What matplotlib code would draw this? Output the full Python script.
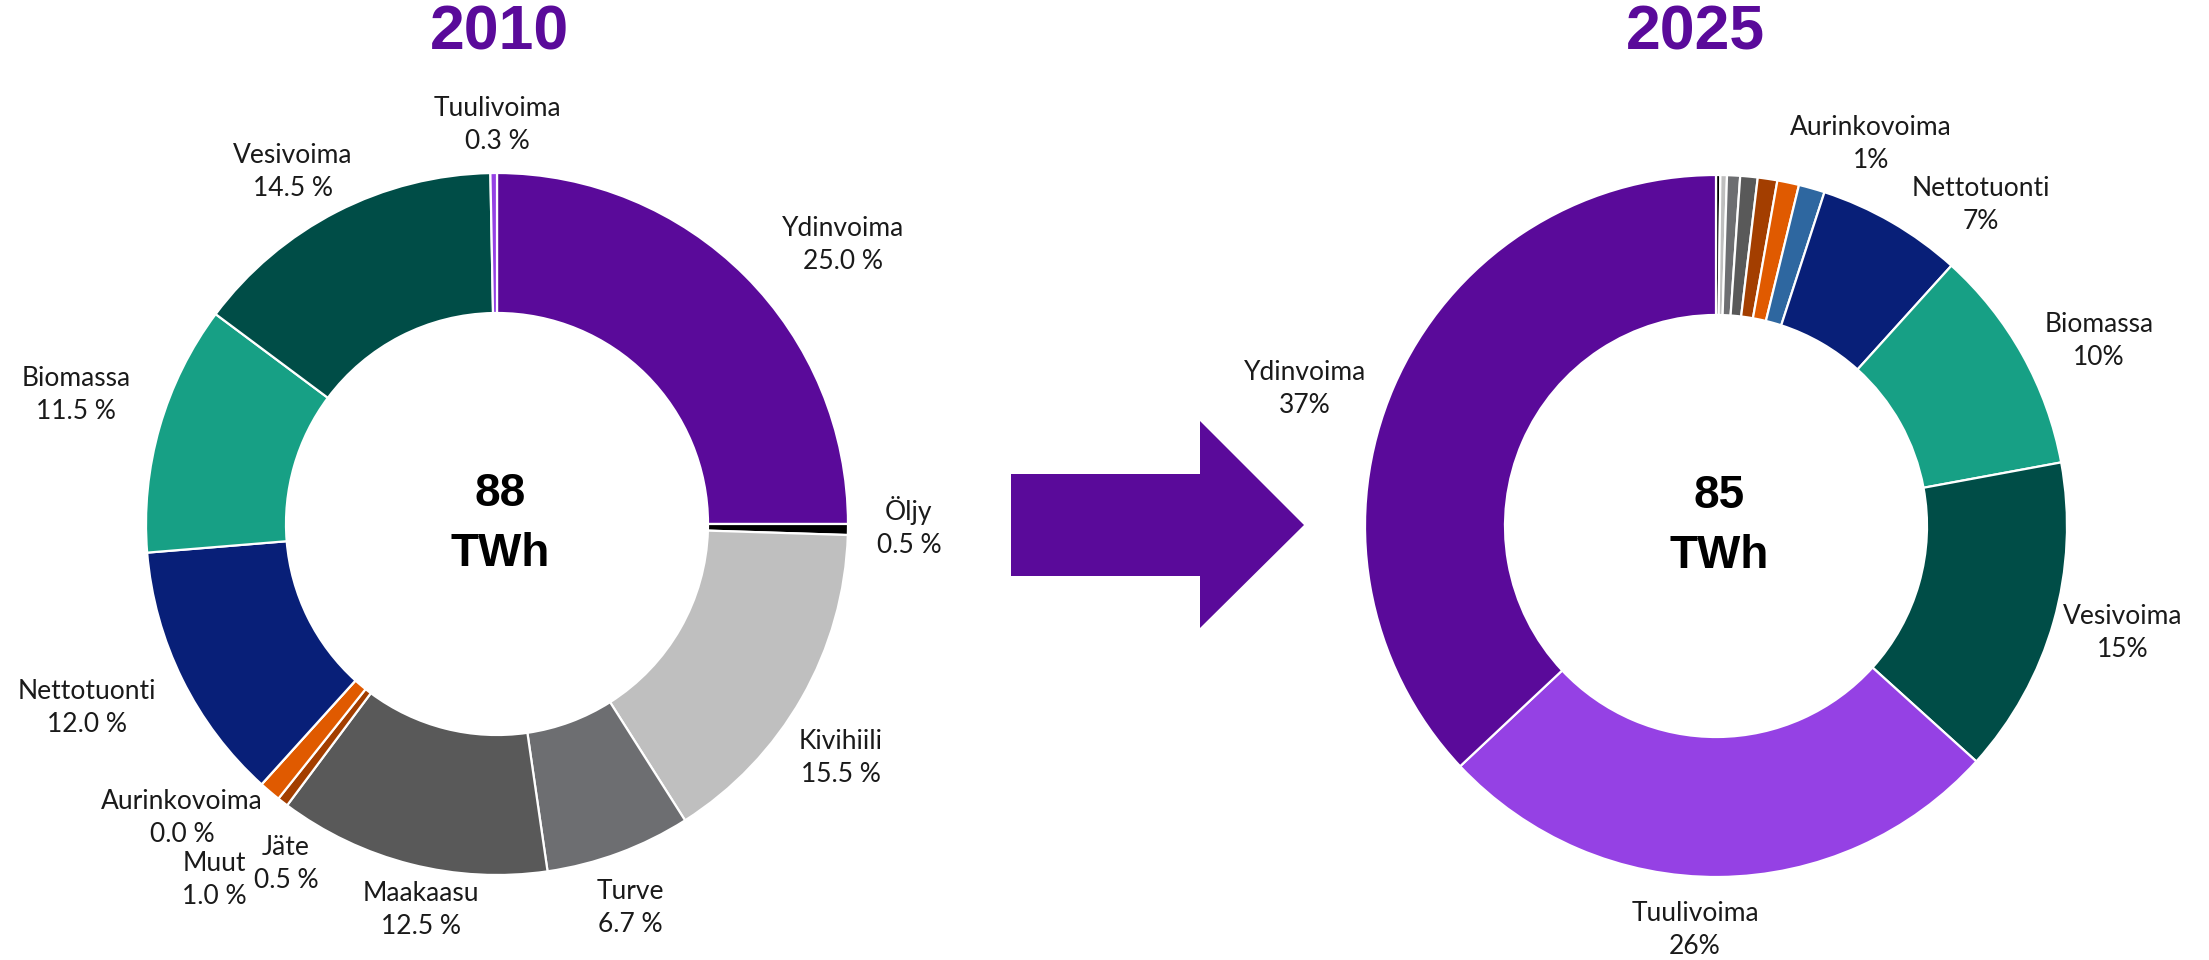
import matplotlib
matplotlib.use("Agg")
import matplotlib.pyplot as plt
from matplotlib.patches import Polygon

# ---------------- data ----------------
categories_2010 = ["Ydinvoima", "Öljy", "Kivihiili", "Turve", "Maakaasu", "Jäte",
                   "Muut", "Aurinkovoima", "Nettotuonti", "Biomassa", "Vesivoima", "Tuulivoima"]
share_2010 = [25.0, 0.5, 15.5, 6.7, 12.5, 0.5, 1.0, 0.0, 12.0, 11.5, 14.5, 0.3]

categories_2025 = ["Öljy", "Kivihiili", "Turve", "Maakaasu", "Jäte", "Muut",
                   "Aurinkovoima", "Nettotuonti", "Biomassa", "Vesivoima", "Tuulivoima", "Ydinvoima"]
share_2025 = [0.2, 0.3, 0.6, 0.8, 0.9, 1.0, 1.2, 6.7, 10.4, 14.6, 26.3, 37.0]
labelled_2025 = ["Aurinkovoima", "Nettotuonti", "Biomassa", "Vesivoima", "Tuulivoima", "Ydinvoima"]

years = ["2010", "2025"]
totals = [88, 85]
unit = "TWh"

# ---------------- style ----------------
colors = {
    "Ydinvoima": "#5a0a9a",
    "Öljy": "#000000",
    "Kivihiili": "#bfbfbf",
    "Turve": "#6d6e71",
    "Maakaasu": "#595959",
    "Jäte": "#a33e00",
    "Muut": "#e05a00",
    "Aurinkovoima": "#2e67a0",
    "Nettotuonti": "#081f78",
    "Biomassa": "#17a085",
    "Vesivoima": "#004d47",
    "Tuulivoima": "#9541e4",
}
PURPLE = "#5a0a9a"
W, H = 2209, 960

# label positions (pixel coords, image y downwards)
pos_2010 = {
    "Tuulivoima": (497, 125), "Vesivoima": (293, 172), "Ydinvoima": (843, 245),
    "Öljy": (909, 527), "Kivihiili": (841, 758), "Turve": (630, 908),
    "Maakaasu": (421, 910), "Jäte": (286, 864), "Muut": (214, 880),
    "Aurinkovoima": (182, 818), "Nettotuonti": (87, 708), "Biomassa": (76, 395),
}
pos_2025 = {
    "Aurinkovoima": (1871, 144), "Nettotuonti": (1981, 205), "Biomassa": (2099, 341),
    "Vesivoima": (2123, 633), "Tuulivoima": (1695, 930), "Ydinvoima": (1305, 389),
}
centers = [(497, 524), (1716, 526)]
title_x = [500, 1695]
R_OUT, R_IN = 351, 211

LABEL_FONT = ["Lato", "DejaVu Sans"]
BOLD_FONT = ["Liberation Sans", "DejaVu Sans"]

fig = plt.figure(figsize=(W / 100, H / 100), dpi=100)
ax = fig.add_axes([0, 0, 1, 1])


def Y(y):
    return H - y


for i, (cats, vals) in enumerate([(categories_2010, share_2010), (categories_2025, share_2025)]):
    cx, cy = centers[i]
    ax.pie(vals, colors=[colors[c] for c in cats], center=(cx, Y(cy)), radius=R_OUT,
           startangle=90, counterclock=False, normalize=True,
           wedgeprops=dict(width=R_OUT - R_IN, edgecolor="white", linewidth=1.6))
    # centre text
    ax.text(cx + 3, Y(cy - 30), f"{totals[i]}", ha="center", va="center",
            fontsize=33, fontweight="bold", family=BOLD_FONT, color="black")
    ax.text(cx + 3, Y(cy + 30), unit, ha="center", va="center",
            fontsize=33, fontweight="bold", family=BOLD_FONT, color="black")
    # title
    ax.text(title_x[i], Y(33), years[i], ha="center", va="center",
            fontsize=45, fontweight="bold", family=BOLD_FONT, color=PURPLE)

# data labels
for c, v in zip(categories_2010, share_2010):
    x, y = pos_2010[c]
    ax.text(x, Y(y), f"{c}\n{v:.1f} %", ha="center", va="center", fontsize=19,
            family=LABEL_FONT, color="#1a1a1a", linespacing=1.4)
for c, v in zip(categories_2025, share_2025):
    if c in labelled_2025:
        x, y = pos_2025[c]
        ax.text(x, Y(y), f"{c}\n{v:.0f}%", ha="center", va="center", fontsize=19,
                family=LABEL_FONT, color="#1a1a1a", linespacing=1.4)

# arrow
arrow = Polygon([(1011, Y(474)), (1200, Y(474)), (1200, Y(421)), (1304, Y(525)),
                 (1200, Y(628)), (1200, Y(576)), (1011, Y(576))],
                closed=True, facecolor=PURPLE, edgecolor="none")
ax.add_patch(arrow)

ax.set_xlim(0, W)
ax.set_ylim(0, H)
ax.set_aspect("equal")
ax.axis("off")
fig.savefig("out.png", dpi=100, facecolor="white")
